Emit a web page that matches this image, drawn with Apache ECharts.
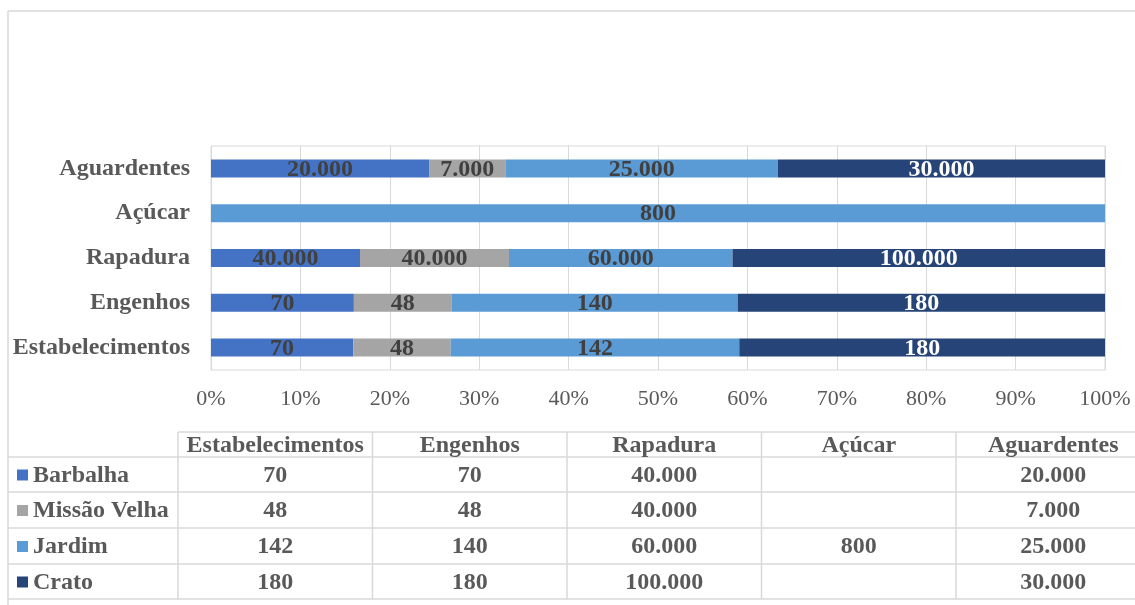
<!DOCTYPE html>
<html>
<head>
<meta charset="utf-8">
<script src="https://cdn.jsdelivr.net/npm/echarts@6/dist/echarts.min.js"></script>
<style>
html,body{margin:0;padding:0;background:#fff;}
#chart{width:1135px;height:605px;}
</style>
</head>
<body>
<div id="chart"></div>
<script>
// ---- data ----
const categories = ['Estabelecimentos', 'Engenhos', 'Rapadura', 'Açúcar', 'Aguardentes'];
const seriesNames = ['Barbalha', 'Missão Velha', 'Jardim', 'Crato'];
const barbalha = [70, 70, 40000, null, 20000];
const missaoVelha = [48, 48, 40000, null, 7000];
const jardim = [142, 140, 60000, 800, 25000];
const crato = [180, 180, 100000, null, 30000];
const seriesValues = [barbalha, missaoVelha, jardim, crato];
const colors = ['#4472C4', '#A5A5A5', '#5B9BD5', '#264478'];
const labelColors = ['#404040', '#404040', '#404040', '#ffffff'];

const FONT = "'Liberation Serif', 'Times New Roman', serif";
const fmt = v => (v == null ? '' : String(v).replace(/\B(?=(\d{3})+(?!\d))/g, '.'));

const totals = categories.map((c, i) => seriesValues.reduce((s, arr) => s + (arr[i] || 0), 0));

const series = seriesNames.map((name, si) => ({
  name: name,
  type: 'bar',
  stack: 'total',
  barWidth: 18,
  itemStyle: { color: colors[si] },
  label: {
    show: true,
    position: 'inside',
    color: labelColors[si],
    fontFamily: FONT,
    fontWeight: 'bold',
    fontSize: 24,
    offset: [0, 1],
    formatter: p => fmt(p.data.raw)
  },
  data: seriesValues[si].map((v, ci) => ({
    value: v == null ? null : (v / totals[ci]) * 100,
    raw: v
  }))
}));

// ---- data table (graphic) ----
const LINE = '#D9D9D9';
const colEdges = [178, 372.5, 567, 761.5, 956, 1150.5];
const rowEdges = [432, 457, 492, 528, 564, 599];
const graphic = [];
function hline(y, x1, x2) {
  graphic.push({ type: 'line', shape: { x1: x1, y1: y, x2: x2, y2: y }, style: { stroke: LINE, lineWidth: 1.5 }, silent: true });
}
function vline(x, y1, y2) {
  graphic.push({ type: 'line', shape: { x1: x, y1: y1, x2: x, y2: y2 }, style: { stroke: LINE, lineWidth: 1.5 }, silent: true });
}
// chart outer border
hline(11, 8, 1135);
vline(8, 11, 605);
// table grid
hline(rowEdges[0], colEdges[0], 1135);
for (let r = 1; r < rowEdges.length; r++) hline(rowEdges[r], 8, 1135);
vline(colEdges[0], rowEdges[0], rowEdges[rowEdges.length - 1]);
for (let c = 1; c < colEdges.length - 1; c++) vline(colEdges[c], rowEdges[0], rowEdges[rowEdges.length - 1]);

const txtStyle = (text, x, y, align) => ({
  type: 'text',
  x: x, y: y,
  silent: true,
  style: {
    text: text,
    fill: '#595959',
    font: 'bold 24px ' + FONT,
    align: align || 'center',
    verticalAlign: 'middle'
  }
});
// header
categories.forEach((c, ci) => {
  const cx = (colEdges[ci] + colEdges[ci + 1]) / 2;
  graphic.push(txtStyle(c, cx, (rowEdges[0] + rowEdges[1]) / 2 + 1));
});
// rows
seriesNames.forEach((name, si) => {
  const cy = (rowEdges[si + 1] + rowEdges[si + 2]) / 2 + 1;
  graphic.push({ type: 'rect', shape: { x: 17, y: cy - 6, width: 11, height: 11 }, style: { fill: colors[si] }, silent: true });
  graphic.push(txtStyle(name, 33, cy, 'left'));
  seriesValues[si].forEach((v, ci) => {
    const cx = (colEdges[ci] + colEdges[ci + 1]) / 2;
    graphic.push(txtStyle(fmt(v), cx, cy));
  });
});

const chart = echarts.init(document.getElementById('chart'));
chart.setOption({
  animation: false,
  backgroundColor: '#ffffff',
  grid: {
    left: 211, right: 30, top: 146, height: 224,
    show: true, borderColor: LINE, borderWidth: 1
  },
  xAxis: {
    type: 'value',
    min: 0, max: 100, interval: 10,
    axisLine: { show: false },
    axisTick: { show: false },
    splitLine: { lineStyle: { color: LINE, width: 1 } },
    axisLabel: {
      formatter: '{value}%',
      color: '#595959',
      fontFamily: FONT,
      fontSize: 22,
      margin: 18
    }
  },
  yAxis: {
    type: 'category',
    data: categories,
    axisLine: { show: false },
    axisTick: { show: false },
    axisLabel: {
      color: '#595959',
      fontFamily: FONT,
      fontWeight: 'bold',
      fontSize: 24,
      margin: 21
    }
  },
  series: series,
  graphic: graphic
});
</script>
</body>
</html>
